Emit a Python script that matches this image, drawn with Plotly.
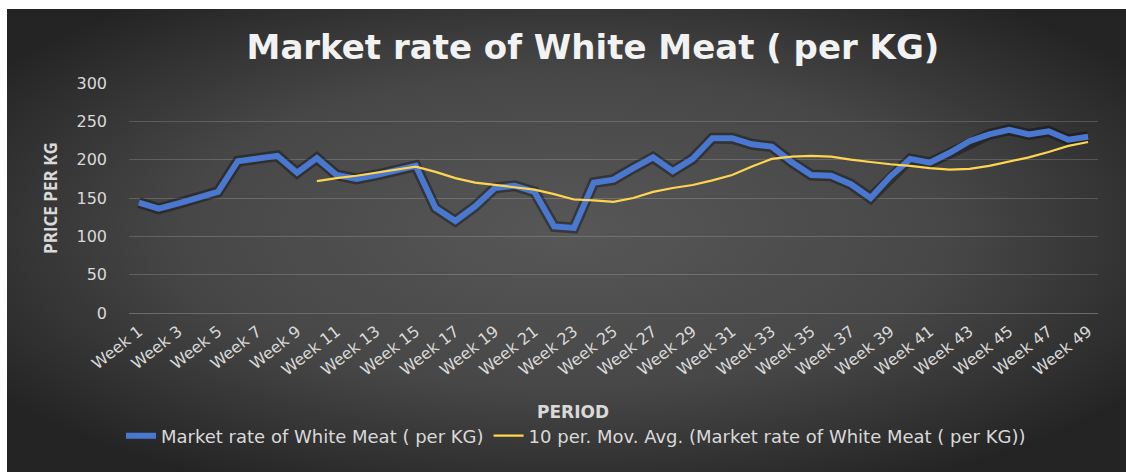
import base64
import plotly.graph_objects as go

weeks = [f"Week {i}" for i in range(1, 50)]
price = [144, 136, 143, 150, 158, 198, 202, 205, 183, 202,
         180, 175, 180, 187, 192, 137, 120, 139, 163, 166,
         158, 113, 111, 170, 174, 189, 203, 185, 201, 228,
         228, 220, 217, 197, 180, 179, 168, 150, 178, 201,
         196, 209, 224, 233, 239, 233, 237, 226, 230]
ma_weeks = weeks[9:]
ma_values = [172, 176, 179, 183, 187, 191, 184, 176, 170, 167,
             164, 161, 155, 148, 147, 145, 150, 158, 163, 167,
             173, 180, 191, 201, 204, 205, 204, 200, 197, 194,
             192, 189, 187, 188, 192, 198, 203, 210, 218, 223]
tick_labels = weeks[::2]
y_ticks = [0, 50, 100, 150, 200, 250, 300]

name_main = "Market rate of White Meat ( per KG)"
name_ma = "10 per. Mov. Avg. (Market rate of White Meat ( per KG))"

W, H = 1126, 472
L, R, T, B = 129, 28, 83, 159
PW, PH = W - L - R, H - T - B

# dark chart area (radial gradient) from (7, 9) to the window edges
BX, BY = 7, 9
BW, BH = W - BX, H - BY
svg = (f'<svg xmlns="http://www.w3.org/2000/svg" width="{BW}" height="{BH}" viewBox="0 0 {BW} {BH}" preserveAspectRatio="none">'
       '<defs><radialGradient id="g" cx="50%" cy="48%" r="62%">'
       '<stop offset="0" stop-color="#575757"/><stop offset="0.55" stop-color="#474747"/>'
       '<stop offset="1" stop-color="#242424"/></radialGradient></defs>'
       f'<rect width="{BW}" height="{BH}" fill="url(#g)"/></svg>')
src = "data:image/svg+xml;base64," + base64.b64encode(svg.encode()).decode()


def px_x(px):
    return (px - L) / PW


def px_y(py):
    return 1 - (py - T) / PH


fig = go.Figure()
fig.add_trace(go.Scatter(x=weeks, y=price, mode="lines", showlegend=False, hoverinfo="skip",
                         line=dict(color="rgba(0,0,0,0.35)", width=11)))
fig.add_trace(go.Scatter(x=weeks, y=price, mode="lines", name=name_main,
                         line=dict(color="#4A78D0", width=6)))
fig.add_trace(go.Scatter(x=ma_weeks, y=ma_values, mode="lines", name=name_ma,
                         line=dict(color="#FFD54F", width=2.2)))

fig.update_layout(
    width=W, height=H,
    margin=dict(l=L, r=R, t=T, b=B),
    paper_bgcolor="white",
    plot_bgcolor="rgba(0,0,0,0)",
    images=[dict(source=src, xref="paper", yref="paper",
                 x=px_x(BX), y=px_y(BY),
                 sizex=BW / PW, sizey=BH / PH,
                 xanchor="left", yanchor="top", sizing="stretch", layer="below")],
    title=dict(text="<b>Market rate of White Meat ( per KG)</b>",
               font=dict(family="DejaVu Sans", size=34, color="#f2f2f2"),
               x=593 / W, xanchor="center", y=1 - 47 / H, yanchor="middle"),
    font=dict(family="DejaVu Sans", color="#d9d9d9"),
    showlegend=True,
    legend=dict(orientation="h", x=px_x(576), xanchor="center",
                y=px_y(436), yanchor="middle",
                font=dict(family="DejaVu Sans", size=18, color="#d9d9d9"),
                bgcolor="rgba(0,0,0,0)", tracegroupgap=0),
    annotations=[
        dict(text="<b>PERIOD</b>", xref="paper", yref="paper", x=px_x(573), y=px_y(412),
             xanchor="center", yanchor="middle", showarrow=False,
             font=dict(family="DejaVu Sans", size=17, color="#d9d9d9")),
        dict(text="<b>PRICE PER KG</b>", xref="paper", yref="paper", x=px_x(50), y=px_y(198),
             xanchor="center", yanchor="middle", showarrow=False, textangle=-90,
             font=dict(family="Open Sans", size=17, color="#d9d9d9")),
    ],
)

fig.update_xaxes(
    type="category", range=[-0.5, 48.5],
    tickmode="array", tickvals=tick_labels, ticktext=tick_labels,
    tickangle=-38, tickfont=dict(family="DejaVu Sans", size=16, color="#d9d9d9"),
    showgrid=False, showline=True, linecolor="#6a6a6a", linewidth=1,
    ticks="", ticklabelstandoff=2,
)
fig.update_yaxes(
    range=[0, 300], tickvals=y_ticks,
    tickfont=dict(family="DejaVu Sans", size=16, color="#d9d9d9"),
    showgrid=True, gridcolor="rgba(255,255,255,0.17)", gridwidth=1,
    zeroline=False, showline=False, ticks="", ticklabelstandoff=21,
)

fig.write_html("out.html", config={"displayModeBar": False},
               post_script=("document.documentElement.style.overflow='hidden';"
                            "document.body.style.margin='0';document.body.style.overflow='hidden';"))
